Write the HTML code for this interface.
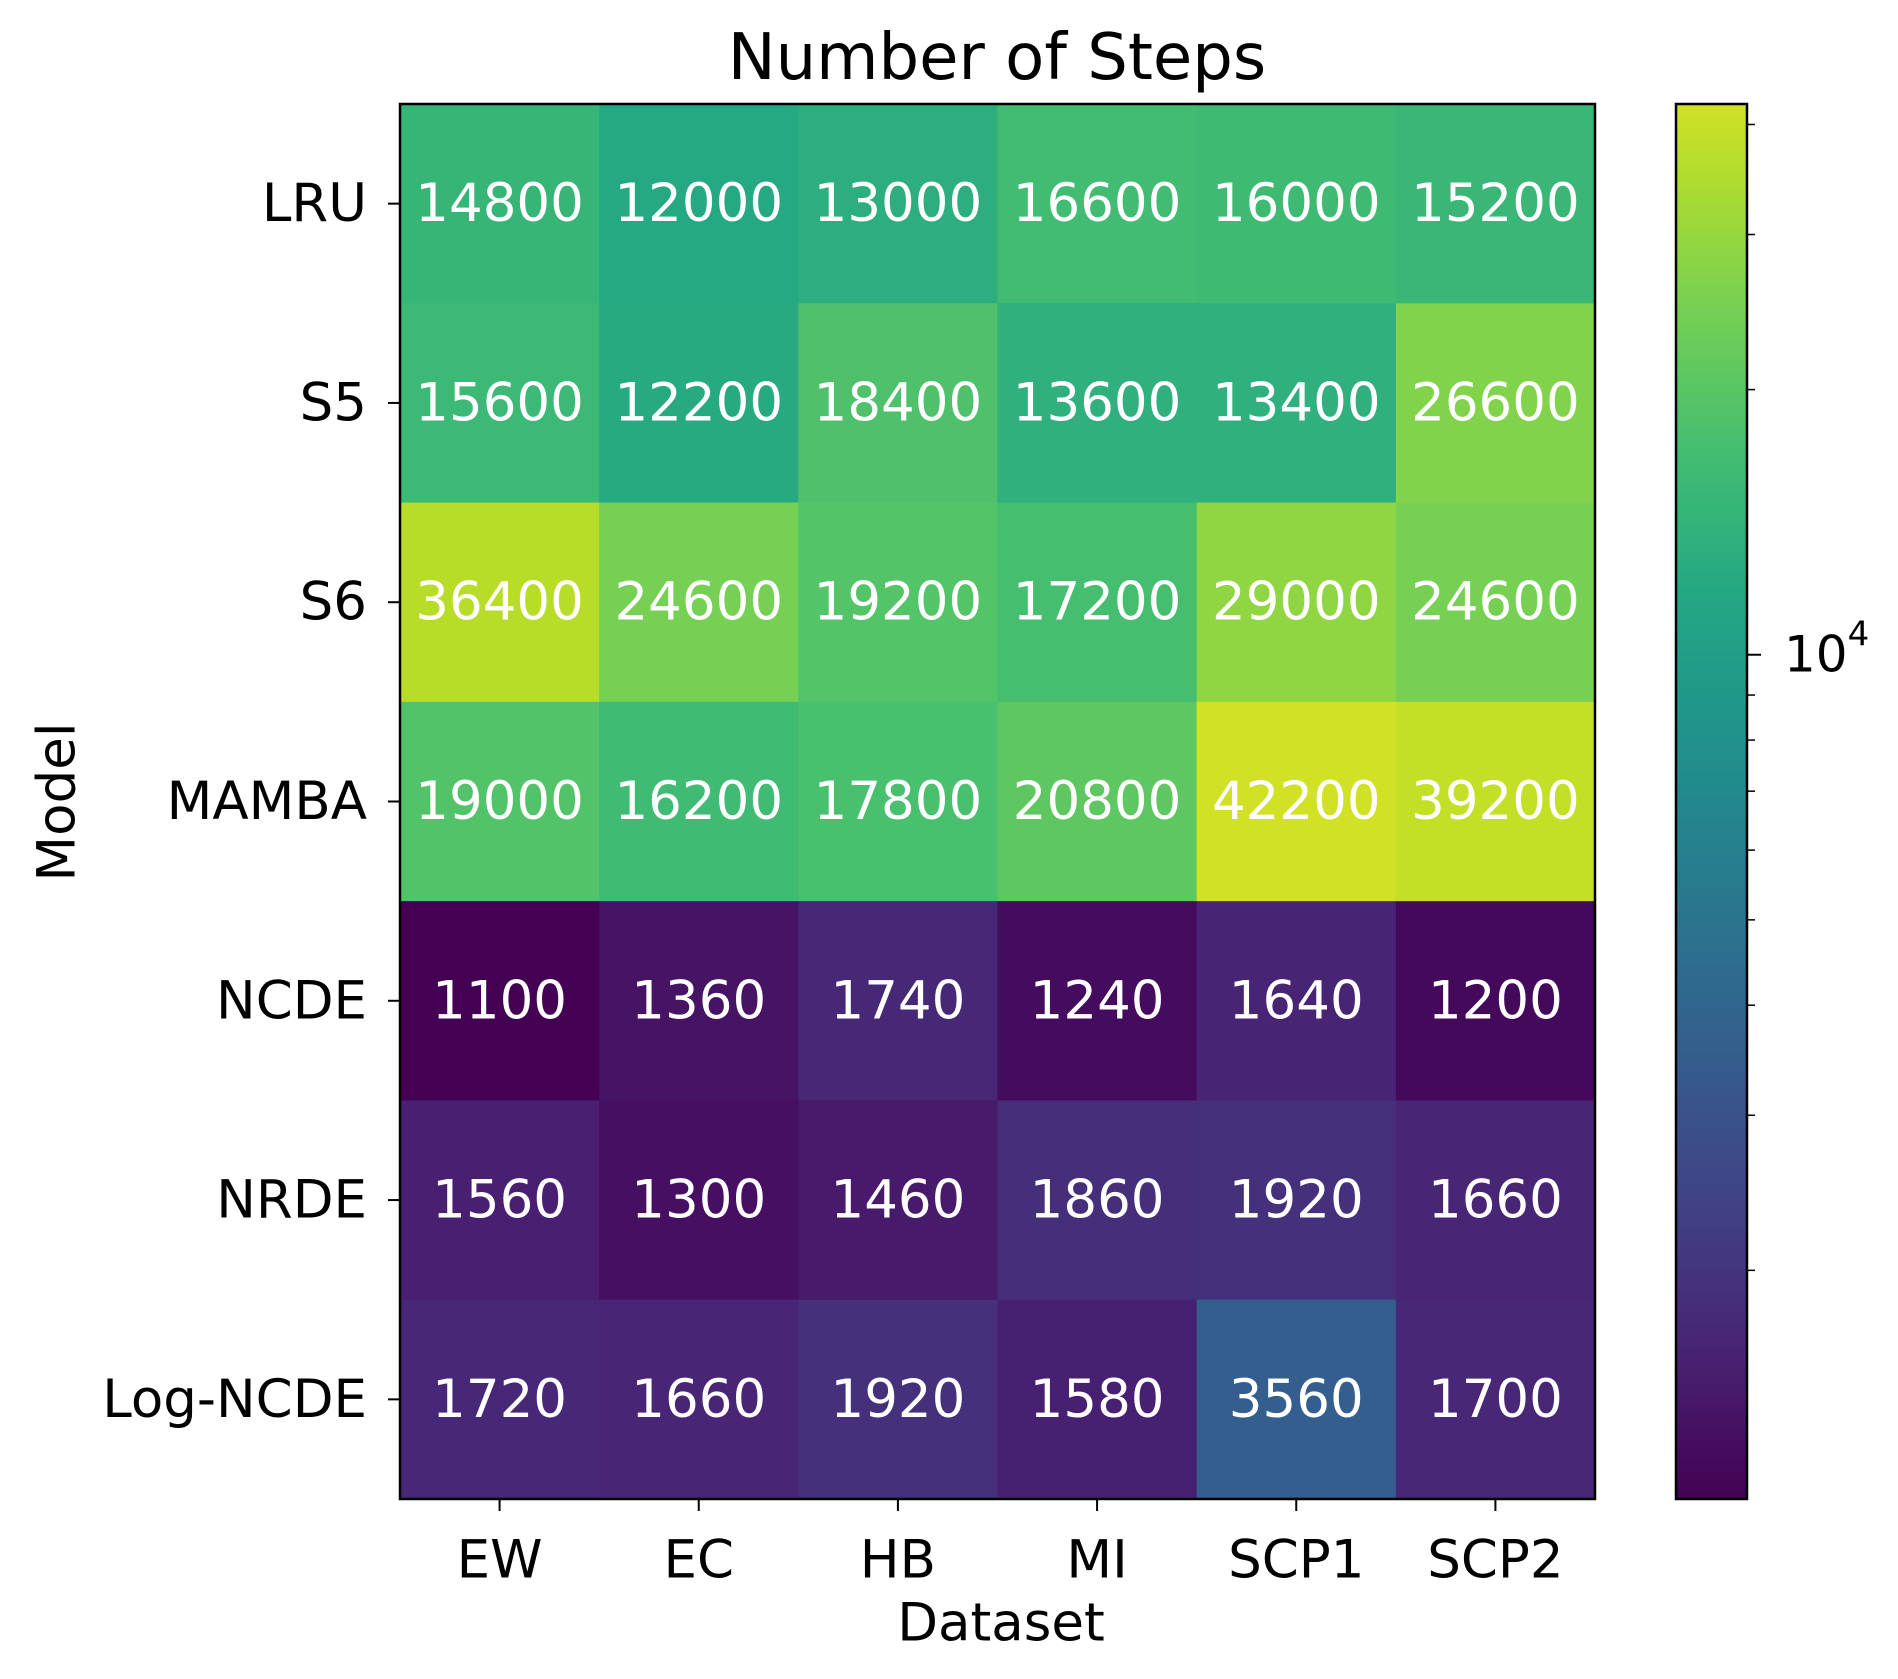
<!DOCTYPE html>
<html><head><meta charset="utf-8"><style>
html,body{margin:0;padding:0;background:#fff;}
svg{display:block;font-family:"DejaVu Sans","Liberation Sans",sans-serif;}
</style></head><body>
<svg id="chart" width="1898" height="1679" viewBox="0 0 1898 1679" xmlns="http://www.w3.org/2000/svg">
<defs><linearGradient id="vg" x1="0" y1="1" x2="0" y2="0"></linearGradient></defs>
<text x="997" y="58" font-size="64" text-anchor="middle" dominant-baseline="central">Number of Steps</text>
<g id="cells"></g>
<g id="axes"></g>
<text x="1001" y="1623" font-size="53" text-anchor="middle" dominant-baseline="central">Dataset</text>
<text transform="translate(57,802) rotate(-90)" font-size="53" text-anchor="middle" dominant-baseline="central">Model</text>
<g id="cbar"></g>
</svg>
<script>
const datasets = ["EW","EC","HB","MI","SCP1","SCP2"];
const models = ["LRU","S5","S6","MAMBA","NCDE","NRDE","Log-NCDE"];
const rowLRU = [14800,12000,13000,16600,16000,15200];
const rowS5 = [15600,12200,18400,13600,13400,26600];
const rowS6 = [36400,24600,19200,17200,29000,24600];
const rowMAMBA = [19000,16200,17800,20800,42200,39200];
const rowNCDE = [1100,1360,1740,1240,1640,1200];
const rowNRDE = [1560,1300,1460,1860,1920,1660];
const rowLogNCDE = [1720,1660,1920,1580,3560,1700];
const values = [rowLRU,rowS5,rowS6,rowMAMBA,rowNCDE,rowNRDE,rowLogNCDE];
const cbarMinorTicks = [2000,3000,4000,5000,6000,7000,8000,9000,20000,30000,40000];
const cbarMajorTicks = [10000];

const NS="http://www.w3.org/2000/svg";
const X0=400,X1=1595,Y0=104,Y1=1499;
const allV=values.flat();
const vmin=Math.min(...allV), vmax=Math.max(...allV);
const cw=(X1-X0)/datasets.length, ch=(Y1-Y0)/models.length;
const xCenter=i=>X0+cw*(i+0.5);
const yCenter=j=>Y0+ch*(j+0.5);
const norm=v=>(Math.log(v)-Math.log(vmin))/(Math.log(vmax)-Math.log(vmin));
const CSCALE=0.93;
const VIR=[[68,1,84],[72,35,116],[64,67,135],[52,94,141],[41,120,142],[32,144,140],[34,167,132],[68,190,112],[121,209,81],[189,222,38],[253,231,37]];
function viridis(t){t=Math.max(0,Math.min(1,t))*CSCALE;const p=t*(VIR.length-1);const i=Math.min(Math.floor(p),VIR.length-2);const f=p-i;
const c=VIR[i].map((a,k)=>Math.round(a+(VIR[i+1][k]-a)*f));return `rgb(${c[0]},${c[1]},${c[2]})`;}
function el(tag,attrs,parent){const e=document.createElementNS(NS,tag);for(const k in attrs)e.setAttribute(k,attrs[k]);parent.appendChild(e);return e;}

const cells=document.getElementById('cells');
models.forEach((m,j)=>datasets.forEach((d,i)=>{
  const v=values[j][i];
  const r=el('rect',{x:X0+cw*i,y:Y0+ch*j,width:cw+0.6,height:ch+0.6,fill:viridis(norm(v))},cells);
  
  
  const t=el('text',{x:xCenter(i),y:yCenter(j),'font-size':53,fill:'#fff','text-anchor':'middle','dominant-baseline':'central'},cells);
  t.textContent=v;
  
  
}));

const axes=document.getElementById('axes');
const frame=el('rect',{x:X0,y:Y0,width:X1-X0,height:Y1-Y0,fill:'none',stroke:'#000','stroke-width':2.5},axes);


datasets.forEach((d,i)=>{
  el('line',{x1:xCenter(i),x2:xCenter(i),y1:Y1,y2:Y1+12,stroke:'#000','stroke-width':2},axes);
  const t=el('text',{x:xCenter(i),y:1560,'font-size':53,'text-anchor':'middle','dominant-baseline':'central'},axes);
  t.textContent=d;
  
  
});
models.forEach((m,j)=>{
  el('line',{x1:X0-12,x2:X0,y1:yCenter(j),y2:yCenter(j),stroke:'#000','stroke-width':2},axes);
  const t=el('text',{x:367,y:yCenter(j),'font-size':53,'text-anchor':'end','dominant-baseline':'central'},axes);
  t.textContent=m;
  
  
});

const grad=document.getElementById('vg');
for(let k=0;k<=20;k++){el('stop',{offset:(k/20),'stop-color':viridis(k/20)},grad);}
const cb=document.getElementById('cbar');
const CX0=1676,CX1=1747;
const cyOf=v=>Y1-norm(v)*(Y1-Y0);
const cbr=el('rect',{x:CX0,y:Y0,width:CX1-CX0,height:Y1-Y0,fill:'url(#vg)',stroke:'#000','stroke-width':2.5},cb);


cbarMinorTicks.forEach(v=>{const y=cyOf(v);if(y>=Y0&&y<=Y1)el('line',{x1:CX1,x2:CX1+8,y1:y,y2:y,stroke:'#000','stroke-width':1.5},cb);});
cbarMajorTicks.forEach(v=>{const y=cyOf(v);
  el('line',{x1:CX1,x2:CX1+14,y1:y,y2:y,stroke:'#000','stroke-width':2},cb);
  const t=el('text',{x:1784,y:y,'font-size':50,'dominant-baseline':'central'},cb);
  t.textContent='10';
  const s=el('tspan',{'font-size':34,dy:-20},t);s.textContent=String(Math.round(Math.log10(v)));
  
  
});
</script>
</body></html>
